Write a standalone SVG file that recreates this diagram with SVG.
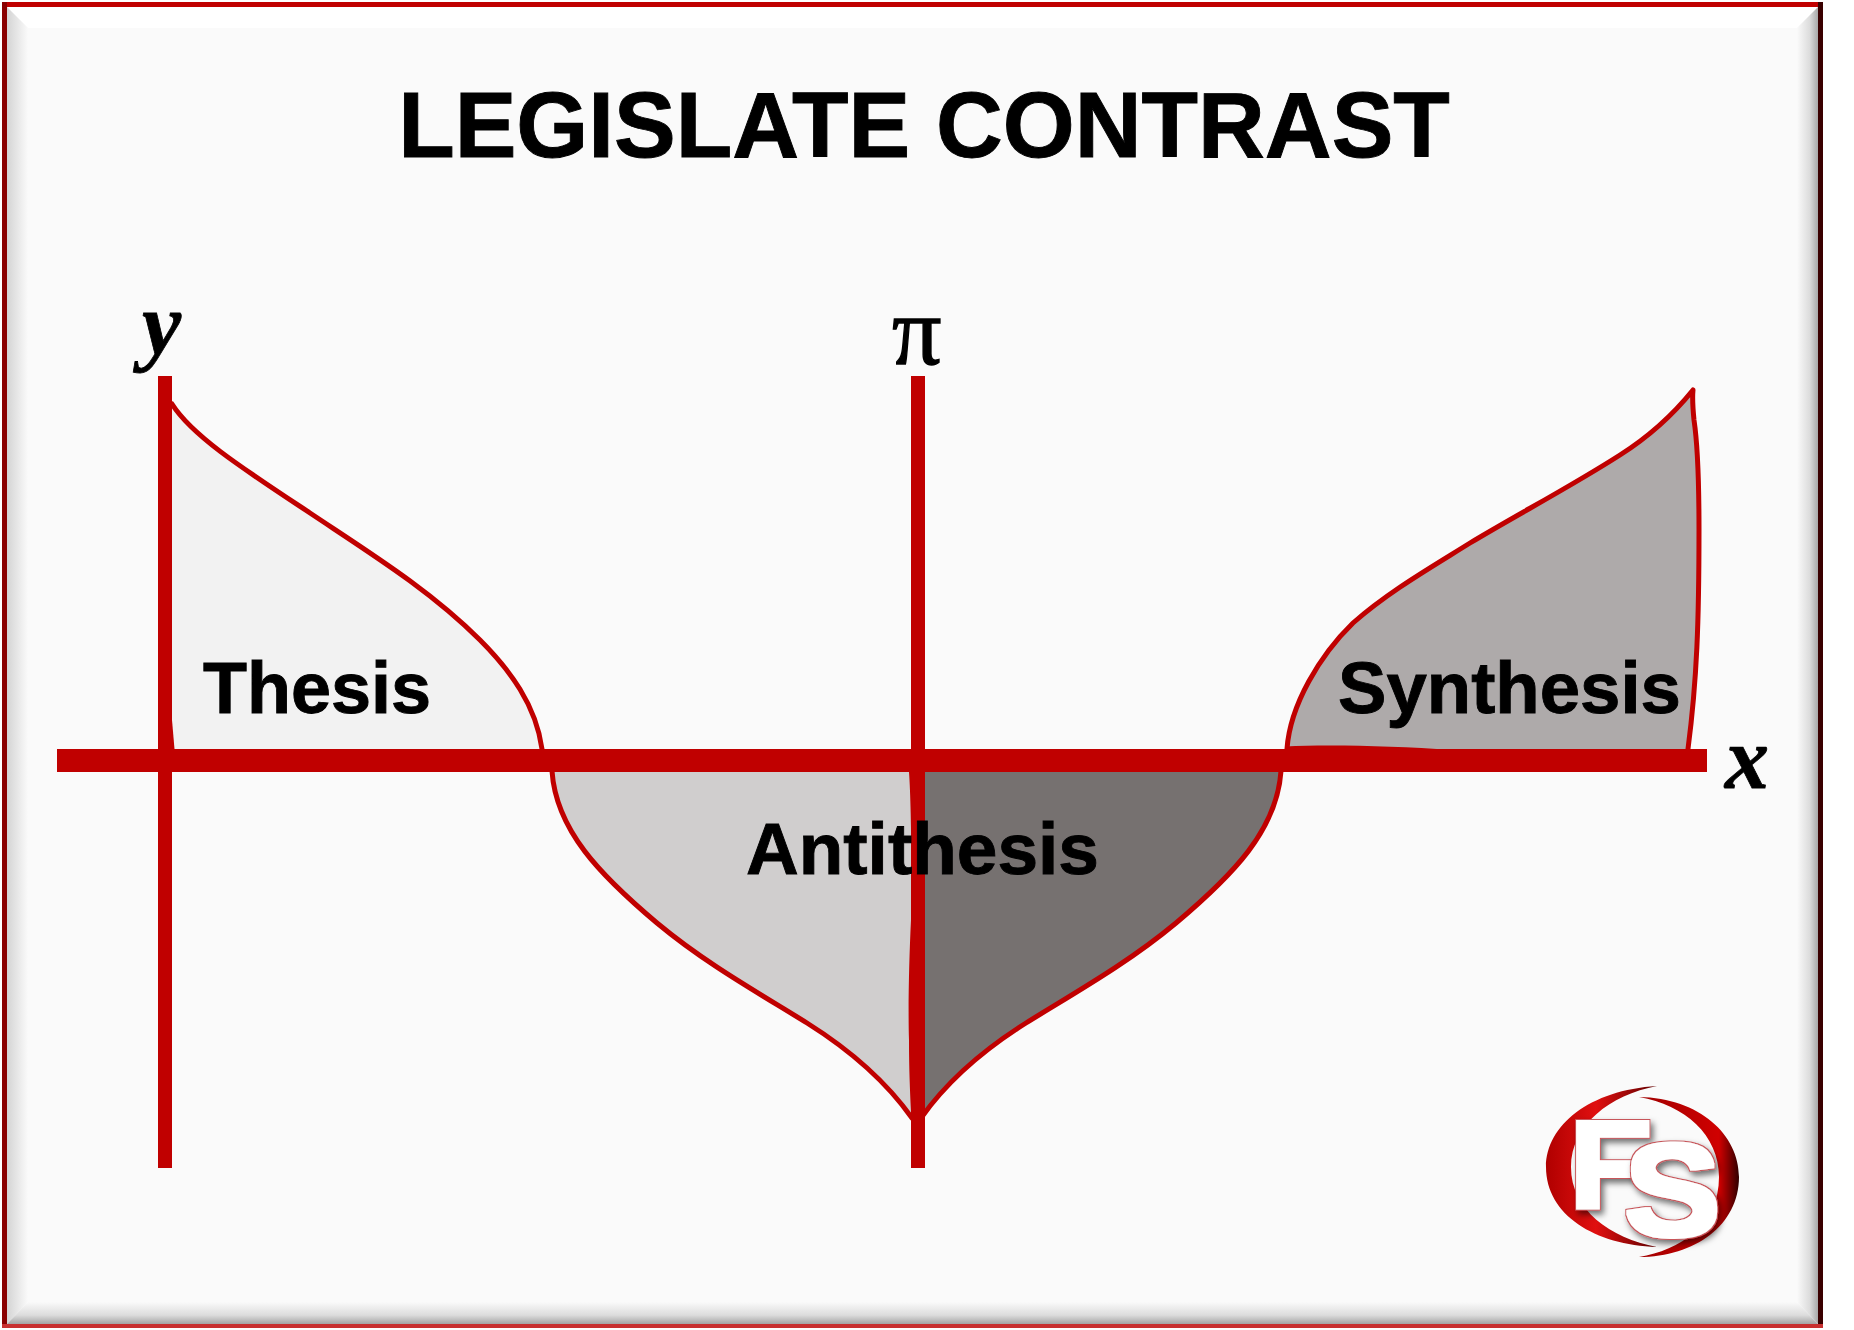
<svg xmlns="http://www.w3.org/2000/svg" width="1854" height="1330" viewBox="0 0 1854 1330">
<style>
.ax{fill:#c00000}
.cv{fill:none;stroke:#c00000;stroke-width:5;stroke-linejoin:round;stroke-linecap:round}
.lb{font-family:"Liberation Sans",Arial,sans-serif;font-weight:bold;fill:#000;stroke:#000;stroke-width:.9}
.sy{font-family:"Liberation Serif","Times New Roman",serif;font-weight:bold;font-style:italic;fill:#000;stroke:#000;stroke-width:.8;font-size:88px}
.lg{font-family:"Liberation Sans",Arial,sans-serif;font-weight:bold;fill:#fff;filter:url(#sh)}
</style>
<defs>
<linearGradient id="bl" x1="0" x2="1" y1="0" y2="0"><stop offset="0" stop-color="#d4d4d4"/><stop offset="1" stop-color="#fafafa"/></linearGradient>
<linearGradient id="br" x1="0" x2="1" y1="0" y2="0"><stop offset="0" stop-color="#fafafa"/><stop offset=".6" stop-color="#dcdcdc"/><stop offset="1" stop-color="#a8a8a8"/></linearGradient>
<linearGradient id="bb" x1="0" x2="0" y1="0" y2="1"><stop offset="0" stop-color="#fafafa"/><stop offset=".6" stop-color="#dcdcdc"/><stop offset="1" stop-color="#a4a4a4"/></linearGradient>
<linearGradient id="cl" x1="0" x2="1" y1="0" y2="0"><stop offset="0" stop-color="#b00000"/><stop offset=".45" stop-color="#e01010"/><stop offset="1" stop-color="#600000"/></linearGradient>
<linearGradient id="cr" x1="0" x2="1" y1="0" y2="0"><stop offset="0" stop-color="#a00000"/><stop offset=".8" stop-color="#d00000"/><stop offset="1" stop-color="#300000"/></linearGradient>
<filter id="sh" x="-30%" y="-30%" width="170%" height="170%">
<feMorphology in="SourceAlpha" operator="dilate" radius="3" result="o"/>
<feGaussianBlur in="o" stdDeviation="3"/><feOffset dx="3" dy="4"/><feColorMatrix values="0 0 0 0 0 0 0 0 0 0 0 0 0 0 0 0 0 0 .55 0" result="s"/>
<feFlood flood-color="#c8555a"/><feComposite in2="o" operator="in" result="r"/>
<feMorphology in="SourceAlpha" operator="dilate" radius="2" result="i"/>
<feFlood flood-color="#fff"/><feComposite in2="i" operator="in" result="w"/>
<feMerge><feMergeNode in="s"/><feMergeNode in="r"/><feMergeNode in="w"/></feMerge>
</filter>
</defs>
<rect width="1854" height="1330" fill="#fff"/>
<g id="frame">
<rect x="2" y="2" width="1821" height="1326" fill="#c00000"/>
<rect x="7" y="7" width="1811" height="1317" fill="#fafafa"/>
<polygon points="7,7 1818,7 1797,28 28,28" fill="#ffffff"/>
<polygon points="7,7 28,28 28,1302 7,1324" fill="url(#bl)"/>
<polygon points="1818,7 1818,1324 1797,1302 1797,28" fill="url(#br)"/>
<polygon points="7,1324 28,1302 1797,1302 1818,1324" fill="url(#bb)"/>
<rect x="2" y="2" width="5" height="1326" fill="#8a0000"/>
<rect x="1818" y="2" width="5" height="1326" fill="#3a0000"/>
<rect x="2" y="1324" width="1821" height="4" fill="#c83030"/>
</g>
<text id="title" class="lb" x="924" y="157" font-size="92.5" text-anchor="middle">LEGISLATE CONTRAST</text>
<g id="regions">
<g id="thesis-region">
<path d="M172,404 C192,436 245,470 310,513 C370,553 430,590 480,640 C510,670 536,705 542,749 L172,749 Z" fill="#f2f2f2"/>
<path d="M172,404 C192,436 245,470 310,513 C370,553 430,590 480,640 C510,670 536,705 542,749" class="cv"/>
<path d="M172,720 L174.5,749 L172,749 Z" fill="#c00000"/>
</g>
<g id="antithesis-left">
<path d="M552,771 C556,830 600,875 657,923 C705,963 757,992 807,1023 C850,1050 885,1080 912,1118 L912,771 Z" fill="#d0cece"/>
<path d="M552,771 C556,830 600,875 657,923 C705,963 757,992 807,1023 C850,1050 885,1080 912,1118" class="cv"/>
<path d="M912,772 L909,772 C911,800 912,860 911,920 C909,960 908,1010 909,1040 C909,1070 910,1090 911,1112 L912,1112 Z" fill="#c00000"/>
</g>
<g id="antithesis-right">
<path d="M1281,771 C1277,830 1233,875 1176,923 C1128,963 1076,992 1026,1023 C983,1050 948,1080 921,1118 L921,771 Z" fill="#767170"/>
<path d="M1281,771 C1277,830 1233,875 1176,923 C1128,963 1076,992 1026,1023 C983,1050 948,1080 921,1118" class="cv"/>
</g>
<g id="synthesis-region">
<path d="M1287,749 C1290,705 1320,655 1353,623 C1388,592 1430,568 1470,543 C1520,513 1570,487 1620,455 C1650,436 1672,416 1693,390 C1692,400 1693,410 1694,420 C1697,440 1699,480 1699,530 C1699,620 1697,680 1688,749 Z" fill="#aeaaaa"/>
<path d="M1287,749 C1290,705 1320,655 1353,623 C1388,592 1430,568 1470,543 C1520,513 1570,487 1620,455 C1650,436 1672,416 1693,390 C1692,400 1693,410 1694,420 C1697,440 1699,480 1699,530 C1699,620 1697,680 1688,749" class="cv"/>
<path d="M1285,752 L1285,746.5 C1330,744.5 1395,746 1452,750 L1452,752 Z" fill="#c00000"/>
</g>
</g>
<g id="axes">
<rect id="y-axis" class="ax" x="158" y="376" width="14" height="792"/>
<rect id="pi-axis" class="ax" x="911" y="376" width="14" height="792"/>
<rect id="x-axis" class="ax" x="57" y="749" width="1650" height="23"/>
</g>
<g id="labels">
<text class="lb" x="203" y="713" font-size="72">Thesis</text>
<text class="lb" x="746" y="874" font-size="73">Antithesis</text>
<text class="lb" x="1338" y="713" font-size="72.6">Synthesis</text>
<text class="sy" x="142" y="354">y</text>
<text x="892" y="364" font-family="'Liberation Serif','Times New Roman',serif" font-size="98" fill="#000" stroke="#000" stroke-width="1.3">π</text>
<text class="sy" x="1725" y="788">x</text>
</g>
<g id="logo">
<path d="M1657,1086 C1590,1090 1546,1125 1546,1167 C1546,1215 1595,1245 1657,1247 C1610,1238 1571,1210 1571,1167 C1571,1125 1610,1095 1657,1086 Z" fill="url(#cl)"/>
<path d="M1639,1097 C1700,1098 1739,1135 1739,1177 C1739,1225 1695,1257 1639,1257 C1680,1250 1719,1225 1719,1177 C1719,1135 1685,1105 1639,1097 Z" fill="url(#cr)"/>
<text class="lg" font-size="124" transform="translate(1569 1207) scale(1.1 1)">F</text>
<text class="lg" font-size="132" transform="translate(1624 1236) scale(1.1 1)">S</text>
</g>
</svg>
